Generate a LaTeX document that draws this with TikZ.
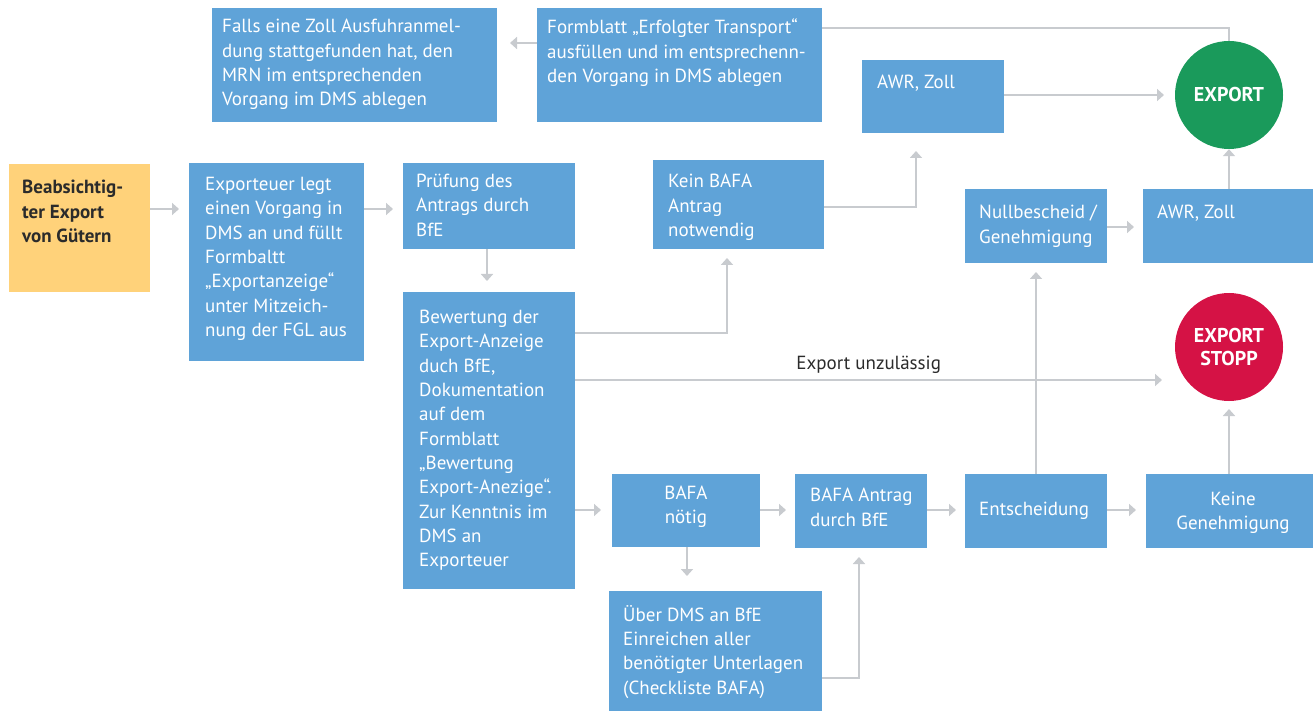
\documentclass[tikz,border=0pt]{standalone}
\usepackage{fontspec}
\setmainfont{PT Sans}
\usetikzlibrary{arrows.meta}
\definecolor{boxblue}{HTML}{5FA3D8}
\definecolor{boxyellow}{HTML}{FFD27A}
\definecolor{expgreen}{HTML}{1A9A5B}
\definecolor{stopred}{HTML}{D51245}
\definecolor{linegray}{HTML}{C8CBCF}
\definecolor{darktext}{HTML}{2B2B2B}
\tikzset{
  box/.style={fill=boxblue, draw=none, anchor=north west, inner sep=0pt},
  ybox/.style={fill=boxyellow, draw=none, anchor=north west, inner sep=0pt},
  txt/.style={anchor=north west, inner sep=0pt, text=white, align=left, font=\fontsize{19}{24.3}\selectfont},
  ctxt/.style={inner sep=0pt, text=white, align=center, font=\fontsize{19}{24.3}\selectfont},
  circ/.style={circle, draw=none, minimum size=108pt, inner sep=0pt, text=white, align=center, font=\bfseries\fontsize{20}{23.5}\selectfont},
  conn/.style={draw=linegray, line width=2.6pt, -{Triangle[length=7pt,width=12pt]}},
  plain/.style={draw=linegray, line width=2.6pt}
}
\begin{document}
\begin{tikzpicture}[x=1pt,y=-1pt]
\useasboundingbox (0,0) rectangle (1314,711);
% boxes
\node[box, minimum width=285pt, minimum height=114pt] (falls) at (212,8) {};
\node[box, minimum width=285pt, minimum height=114pt] (form) at (537,8) {};
\node[box, minimum width=142pt, minimum height=73pt] (awr1) at (862,60) {};
\node[ybox, minimum width=141pt, minimum height=128pt] (beab) at (9,164) {};
\node[box, minimum width=175pt, minimum height=198pt] (expo) at (189,163) {};
\node[box, minimum width=172pt, minimum height=86pt] (pruef) at (403,163) {};
\node[box, minimum width=171pt, minimum height=89pt] (kein) at (653,160) {};
\node[box, minimum width=142pt, minimum height=74pt] (null) at (965,189) {};
\node[box, minimum width=170pt, minimum height=74pt] (awr2) at (1143,189) {};
\node[box, minimum width=172pt, minimum height=297pt] (bew) at (403,292) {};
\node[box, minimum width=148pt, minimum height=73pt] (bnoet) at (612,474) {};
\node[box, minimum width=132pt, minimum height=74pt] (bantr) at (795,474) {};
\node[box, minimum width=142pt, minimum height=74pt] (ents) at (965,474) {};
\node[box, minimum width=167pt, minimum height=74pt] (keine) at (1146,474) {};
\node[box, minimum width=213pt, minimum height=120pt] (ueber) at (609,591) {};
\node[circ, fill=expgreen] (export) at (1229,95) {EXPORT};
\node[circ, fill=stopred] (stopp) at (1229,347) {EXPORT\\STOPP};
% texts
\node[txt] (fallsT) at (222,19) {Falls eine Zoll Ausfuhranmel-\\dung stattgefunden hat, den\\MRN im entsprechenden\\Vorgang im DMS ablegen};
\node[txt] (formT) at (547,19) {Formblatt „Erfolgter Transport“\\ausfüllen und im entsprechenn-\\den Vorgang in DMS ablegen};
\node[txt] (awr1T) at (877,75) {AWR, Zoll};
\node[txt, text=darktext, font=\bfseries\fontsize{19}{24.3}\selectfont] (beabT) at (22,180) {Beabsichtig-\\ter Export\\von Gütern};
\node[txt] (expoT) at (205,177) {Exporteuer legt\\einen Vorgang in\\DMS an und füllt\\Formbaltt\\„Exportanzeige“\\unter Mitzeich-\\nung der FGL aus};
\node[txt] (pruefT) at (416,174) {Prüfung des\\Antrags durch\\BfE};
\node[txt] (keinT) at (668,174) {Kein BAFA\\Antrag\\notwendig};
\node[txt] (nullT) at (979,205) {Nullbescheid /\\Genehmigung};
\node[txt] (awr2T) at (1157,205) {AWR, Zoll};
\node[txt] (bewT) at (419,310) {Bewertung der\\Export-Anzeige\\duch BfE,\\Dokumentation\\auf dem\\Formblatt\\„Bewertung\\Export-Anezige“.\\Zur Kenntnis im\\DMS an\\Exporteuer};
\node[ctxt] (bnoetT) at (686,507) {BAFA\\nötig};
\node[txt] (bantrT) at (810,488) {BAFA Antrag\\durch BfE};
\node[txt] (entsT) at (979,502) {Entscheidung};
\node[ctxt] (keineT) at (1233,513) {Keine\\Genehmigung};
\node[txt] (ueberT) at (623,605) {Über DMS an BfE\\Einreichen aller\\benötigter Unterlagen\\(Checkliste BAFA)};
% connectors
\draw[conn] (beab.east |- 0,209) -- (179,209);
\draw[conn] (expo.east |- 0,209) -- (393,209);
\draw[conn] (pruef.south -| 487,0) -- (487,281);
\draw[conn] (bew.east |- 0,333) -| (727,258);
\draw[conn] (kein.east |- 0,207) -| (916,151);
\draw[conn] (awr1.east |- 0,95) -- (1164,95);
\draw[plain] (export.north) -- (1229,28) -- (form.east |- 0,28);
\draw[conn] (form.west |- 0,43) -- (510,43);
\draw[conn] (bew.east |- 0,380) -- (1162,380) node[pos=0.5, above=5pt, text=darktext, font=\fontsize{19}{24.3}\selectfont, inner sep=0pt] (unz) {Export unzulässig};
\draw[conn] (ents.north -| 1036,0) -- (1036,272);
\draw[conn] (null.east |- 0,227) -- (1134,227);
\draw[conn] (awr2.north -| 1229,0) -- (export.south);
\draw[conn] (keine.north -| 1229,0) -- (1229,409);
\draw[conn] (bew.east |- 0,510) -- (601,510);
\draw[conn] (bnoet.east |- 0,510) -- (786,510);
\draw[conn] (bantr.east |- 0,510) -- (956,510);
\draw[conn] (ents.east |- 0,510) -- (1136,510);
\draw[conn] (bnoet.south -| 687,0) -- (687,576);
\draw[conn] (ueber.east |- 0,678) -| (859,557);
\end{tikzpicture}
\end{document}
